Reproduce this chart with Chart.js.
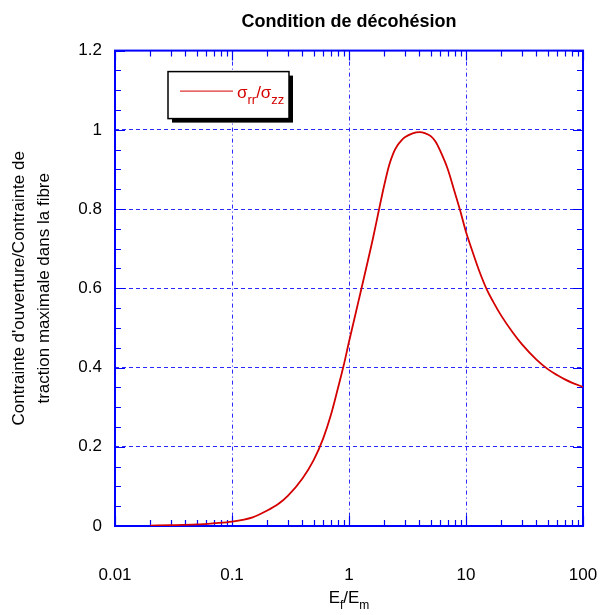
<!DOCTYPE html>
<html>
<head>
<meta charset="utf-8">
<script src="https://cdn.jsdelivr.net/npm/chart.js@4.4.0/dist/chart.umd.min.js"></script>
<style>
  html, body { margin: 0; padding: 0; background: #ffffff; }
</style>
</head>
<body>
<canvas id="chart" width="601" height="615"></canvas>
<script>
// E_f/E_m ratio and the curve
const ratioValues = [0.02, 0.03, 0.05, 0.07, 0.1, 0.15, 0.2, 0.25, 0.3, 0.4, 0.5, 0.6, 0.7, 0.8, 0.9,
    1, 1.2, 1.4, 1.6, 1.8, 2, 2.2, 2.4, 2.6, 2.8, 3, 3.5, 4, 4.5, 5, 5.5, 6, 7, 8, 9,
    10, 11, 12, 13, 15, 17, 20, 25, 30, 40, 50, 60, 70, 80, 100];
const stressRatio = [0.001, 0.002, 0.004, 0.007, 0.011, 0.022, 0.039, 0.056, 0.076, 0.12, 0.167, 0.22, 0.28, 0.345, 0.405,
    0.465, 0.565, 0.65, 0.725, 0.797, 0.86, 0.91, 0.942, 0.961, 0.973, 0.981, 0.991, 0.994, 0.991, 0.984, 0.97, 0.948, 0.9, 0.843, 0.792,
    0.742, 0.705, 0.672, 0.643, 0.598, 0.567, 0.531, 0.489, 0.459, 0.42, 0.396, 0.381, 0.37, 0.362, 0.351];

const xTickValues = [0.01, 0.1, 1, 10, 100];
const xTickLabels = ['0.01', '0.1', '1', '10', '100'];
const yTickLabels = ['0', '0.2', '0.4', '0.6', '0.8', '1', '1.2'];

const chartTitle = 'Condition de décohésion';
const yTitleLines = ["Contrainte d'ouverture/Contrainte de", 'traction maximale dans la fibre'];

const BLUE = '#0000ff';
const GRID_BLUE = '#2a2aff';
const RED = '#d40000';
const FONT = 'Arial, "Liberation Sans", sans-serif';

// draws text pieces with subscripts
function drawSubText(ctx, parts, x, y, size, subSize, color, align) {
    let total = 0;
    parts.forEach(p => {
        ctx.font = (p.sub ? subSize : size) + 'px ' + FONT;
        total += ctx.measureText(p.t).width;
    });
    let cx = align === 'center' ? x - total / 2 : x;
    ctx.fillStyle = color;
    ctx.textAlign = 'left';
    ctx.textBaseline = 'alphabetic';
    parts.forEach(p => {
        ctx.font = (p.sub ? subSize : size) + 'px ' + FONT;
        ctx.fillText(p.t, cx, p.sub ? y + 6 : y);
        cx += ctx.measureText(p.t).width;
    });
}

const framePlugin = {
    id: 'frame',
    beforeDatasetsDraw(chart) {
        const { ctx, chartArea: a, scales } = chart;
        ctx.save();
        ctx.strokeStyle = BLUE;
        ctx.lineWidth = 1.2;
        ctx.beginPath();
        // log minor/major ticks on bottom and top
        for (let d = 0.01; d < 100; d *= 10) {
            for (let k = 1; k <= 10; k++) {
                const v = +(k * d).toPrecision(3);
                const px = Math.round(scales.x.getPixelForValue(v)) + 0.5;
                const len = (k === 1 || k === 10) ? 10 : 6;
                ctx.moveTo(px, a.bottom); ctx.lineTo(px, a.bottom - len);
                ctx.moveTo(px, a.top); ctx.lineTo(px, a.top + len);
            }
        }
        // y ticks every 0.05 on left and right
        for (let i = 0; i <= 24; i++) {
            const py = Math.round(scales.y.getPixelForValue(i * 0.05)) + 0.5;
            const len = i % 4 === 0 ? 10 : 6;
            ctx.moveTo(a.left, py); ctx.lineTo(a.left + len, py);
            ctx.moveTo(a.right, py); ctx.lineTo(a.right - len, py);
        }
        ctx.stroke();
        ctx.lineWidth = 2;
        ctx.strokeRect(a.left, a.top, a.right - a.left, a.bottom - a.top);
        ctx.restore();
    },
    afterDraw(chart) {
        const { ctx, chartArea: a } = chart;
        ctx.save();

        // y axis title, two lines rotated
        ctx.translate(0, (a.top + a.bottom) / 2);
        ctx.rotate(-Math.PI / 2);
        ctx.fillStyle = '#000';
        ctx.font = '17px ' + FONT;
        ctx.textAlign = 'center';
        ctx.textBaseline = 'middle';
        ctx.fillText(yTitleLines[0], 0, 19);
        ctx.fillText(yTitleLines[1], 0, 44);
        ctx.setTransform(1, 0, 0, 1, 0, 0);

        // x axis title E_f/E_m
        drawSubText(ctx, [{ t: 'E' }, { t: 'f', sub: true }, { t: '/E' }, { t: 'm', sub: true }],
            (a.left + a.right) / 2, 603, 17, 12, '#000', 'center');

        // legend box with shadow
        const bx = a.left + 53, by = a.top + 21, bw = 121, bh = 47;
        ctx.fillStyle = '#000';
        ctx.fillRect(bx + 4, by + 4, bw, bh);
        ctx.fillStyle = '#fff';
        ctx.fillRect(bx, by, bw, bh);
        ctx.strokeStyle = '#000';
        ctx.lineWidth = 1.5;
        ctx.strokeRect(bx, by, bw, bh);
        ctx.strokeStyle = RED;
        ctx.lineWidth = 1;
        ctx.beginPath();
        ctx.moveTo(bx + 12, by + 19.5);
        ctx.lineTo(bx + 65, by + 19.5);
        ctx.stroke();
        drawSubText(ctx, [{ t: 'σ' }, { t: 'rr', sub: true }, { t: '/σ' }, { t: 'zz', sub: true }],
            bx + 69, by + 26, 17, 13, RED, 'left');

        ctx.restore();
    }
};

new Chart(document.getElementById('chart'), {
    type: 'line',
    data: {
        datasets: [{
            label: 'σrr/σzz',
            data: ratioValues.map((v, i) => ({ x: v, y: stressRatio[i] })),
            borderColor: RED,
            borderWidth: 1.8,
            pointRadius: 0,
            fill: false,
            cubicInterpolationMode: 'monotone'
        }]
    },
    options: {
        responsive: false,
        animation: false,
        layout: { padding: { left: 0, right: 18, top: 0, bottom: 0 } },
        plugins: {
            legend: { display: false },
            tooltip: { enabled: false },
            title: {
                display: true,
                text: chartTitle,
                fullSize: false,
                color: '#000',
                font: { family: FONT, size: 18, weight: 'bold', lineHeight: 1.2 },
                padding: { top: 11, bottom: 18 }
            }
        },
        scales: {
            x: {
                type: 'logarithmic',
                min: 0.01,
                max: 100,
                afterBuildTicks: (scale) => { scale.ticks = xTickValues.map(v => ({ value: v })); },
                afterFit: (scale) => { scale.height = 89; },
                ticks: {
                    color: '#000',
                    font: { family: FONT, size: 17 },
                    padding: 0,
                    maxRotation: 0,
                    autoSkip: false,
                    callback: (value, index) => xTickLabels[index]
                },
                // invisible tick marks push the labels down
                grid: { color: GRID_BLUE, lineWidth: 1, drawTicks: true, tickLength: 39, tickColor: 'rgba(0,0,0,0)' },
                border: { display: false, dash: [4, 3, 1, 3] }
            },
            y: {
                type: 'linear',
                min: 0,
                max: 1.2,
                afterBuildTicks: (scale) => { scale.ticks = yTickLabels.map(t => ({ value: Number(t) })); },
                afterFit: (scale) => { scale.width = 115; },
                ticks: {
                    color: '#000',
                    font: { family: FONT, size: 17 },
                    padding: 13,
                    callback: (value, index) => yTickLabels[index]
                },
                grid: { color: GRID_BLUE, lineWidth: 1, drawTicks: false },
                border: { display: false, dash: [4, 3] }
            }
        }
    },
    plugins: [framePlugin]
});
</script>
</body>
</html>
